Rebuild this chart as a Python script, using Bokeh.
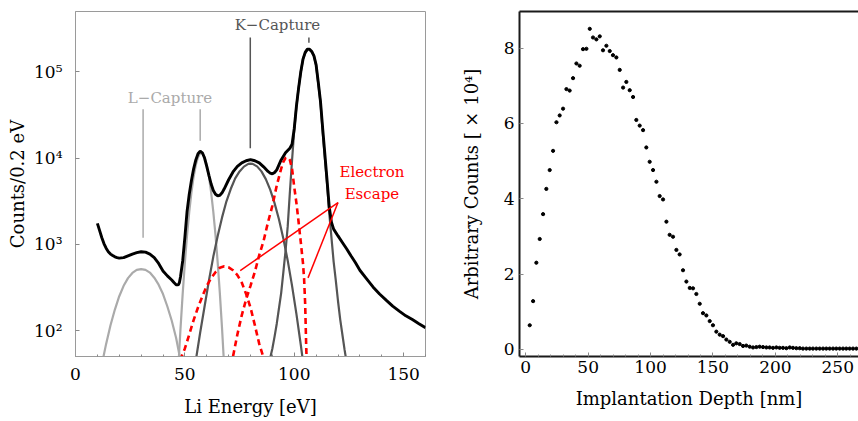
from bokeh.plotting import figure
from bokeh.layouts import row
from bokeh.models import FixedTicker, LinearAxis, Range1d
from bokeh.core.properties import value
from bokeh.embed import file_html
from bokeh.resources import INLINE

FONT = "DejaVu Serif"

# ---------------- Left panel: Li energy spectrum ----------------
spec_e = [10, 11, 12, 13, 14, 15, 16, 17, 18, 19, 20, 22, 24, 26, 28, 30, 32, 34, 36, 38, 40,
          42, 44, 45, 46, 47, 47.5, 48, 49, 50, 51, 52, 53, 54, 55, 56, 57, 58, 59, 60, 61, 62,
          63, 64, 65, 66, 67, 68, 70, 72, 74, 76, 78, 80, 82, 84, 86, 88, 89, 90, 91, 92, 94,
          96, 98, 99, 100, 101, 102, 103, 104, 105, 106, 107, 108, 109, 110, 111, 112, 113,
          114, 115, 116, 117, 118, 120, 122, 124, 126, 128, 130, 133, 136, 139, 142, 145, 148,
          151, 154, 157, 160]
spec_c = [1750, 1450, 1200, 1020, 900, 820, 770, 740, 715, 700, 690, 700, 735, 770, 800, 820,
          810, 770, 700, 600, 490, 430, 385, 360, 340, 338, 360, 420, 640, 1200, 2400, 3800,
          5500, 7500, 9500, 11200, 12000, 11500, 10000, 8000, 6300, 5000, 4200, 3800, 3650,
          3700, 3950, 4400, 5600, 6900, 8000, 8800, 9300, 9600, 9300, 8800, 7900, 7000, 6700,
          6550, 6800, 7300, 9500, 11500, 13000, 14500, 22000, 40000, 65000, 100000, 140000,
          168000, 183000, 183000, 172000, 153000, 120000, 75000, 45000, 22000, 11000, 5500,
          2700, 1800, 1500, 1250, 1050, 880, 730, 610, 500, 400, 320, 265, 225, 192, 168, 148,
          134, 120, 108]

# L-capture components (light grey)
l1_e = [12, 14, 16, 18, 20, 22, 24, 26, 28, 30, 32, 34, 36, 38, 40, 42, 44, 46, 48]
l1_c = [40, 70, 115, 175, 250, 330, 405, 465, 505, 515, 505, 470, 410, 340, 265, 190, 130, 82, 45]
l2_e = [46, 47, 48, 49, 50, 51, 52, 53, 54, 55, 56, 57, 58, 59, 60, 61, 62, 63, 64, 65, 66, 67, 68, 69]
l2_c = [12, 37, 105, 268, 614, 1276, 2380, 4000, 6075, 8310, 10230, 11350, 11350, 10230, 8310,
        6075, 4000, 2380, 1276, 614, 268, 105, 37, 12]

# K-capture components (dark grey)
k1_e = [53, 55, 57, 59, 61, 63, 65, 67, 69, 71, 73, 75, 77, 79, 80, 81, 83, 85, 87, 89, 91, 93,
        95, 97, 99, 101, 103, 105, 107]
k1_c = [20, 45, 95, 190, 380, 720, 1250, 2050, 3150, 4400, 5800, 7000, 7950, 8550, 8600, 8550,
        8000, 7000, 5700, 4300, 3000, 1950, 1170, 650, 330, 155, 68, 28, 11]
k2_e = [87, 88, 89, 90, 91, 92, 93, 94, 95, 96, 97, 98, 99, 100, 101, 102, 103, 104, 105, 106,
        107, 108, 109, 110, 111, 112, 113, 114, 115, 116, 117, 118, 119, 120, 121, 122, 123,
        124, 125]
k2_c = [20, 30, 48, 62, 85, 120, 180, 270, 470, 830, 1600, 4000, 9500, 21000, 40000, 65000,
        100000, 140000, 165000, 180000, 180000, 170000, 152000, 118000, 72000, 44000, 20000,
        10000, 5000, 2300, 1200, 630, 380, 220, 135, 90, 60, 42, 28]

# Electron-escape components (red dashed)
e1_e = [47, 48.5, 50, 52, 54, 56, 58, 60, 62, 64, 66, 68, 70, 72, 74, 76, 78, 80, 82, 84, 86, 88]
e1_c = [35, 50, 62, 90, 132, 185, 250, 330, 405, 475, 535, 555, 540, 500, 440, 360, 265, 185,
        115, 70, 48, 30]
e2_e = [70, 72, 74, 76, 78, 80, 82, 84, 86, 88, 90, 92, 94, 95, 96, 97, 98, 99, 100, 101, 102,
        103, 104, 104.5, 105, 105.5, 106]
e2_c = [30, 50, 90, 150, 230, 330, 480, 750, 1100, 1800, 2800, 4800, 7500, 9000, 10000, 10200,
        9500, 7500, 4600, 3000, 1800, 1050, 600, 400, 200, 60, 30]

# annotation anchors (data coordinates)
l_lines_x = [30.9, 57.0]
l_lines_top = [36700, 36700]
l_lines_bot = [1190, 15900]
k_lines_x = [79.9, 106.7]
k_lines_top = [250000, 250000]
k_lines_bot = [13000, 217000]
esc_from = (120.0, 3050)
esc_to_x = [75.3, 106.3]
esc_to_y = [495, 408]

p1 = figure(width=448, height=421, x_range=Range1d(0, 160), y_range=Range1d(50, 5e5),
            y_axis_type="log", output_backend="svg", toolbar_location=None,
            min_border_left=75, min_border_right=23, min_border_top=7, min_border_bottom=65)
p1.grid.visible = False
p1.outline_line_color = "#9a9a9a"
p1.outline_line_width = 1
p1.background_fill_color = None
p1.border_fill_color = None

p1.xaxis.ticker = FixedTicker(ticks=[0, 50, 100, 150],
                              minor_ticks=[10, 20, 30, 40, 60, 70, 80, 90, 110, 120, 130, 140, 160])
p1.yaxis.ticker = FixedTicker(ticks=[100, 1000, 10000, 100000])
p1.yaxis.major_label_overrides = {100: "10²", 1000: "10³", 10000: "10⁴", 100000: "10⁵"}
for ax in (p1.xaxis[0], p1.yaxis[0]):
    ax.axis_line_color = "#9a9a9a"
    ax.major_tick_line_color = "#888888"
    ax.minor_tick_line_color = "#888888"
    ax.major_tick_in = 4
    ax.major_tick_out = 0
    ax.minor_tick_in = 2
    ax.minor_tick_out = 0
    ax.major_label_text_font = FONT
    ax.major_label_text_font_size = "17px"
    ax.major_label_text_color = "black"
    ax.axis_label_text_font = FONT
    ax.axis_label_text_font_size = "18px"
    ax.axis_label_text_font_style = "normal"
    ax.axis_label_text_color = "black"
p1.xaxis.axis_label = "Li Energy [eV]"
p1.yaxis.axis_label = "Counts/0.2 eV"
p1.xaxis.major_label_standoff = 11
p1.xaxis.axis_label_standoff = 13
p1.yaxis.major_label_standoff = 13
p1.yaxis.axis_label_standoff = 3
p1.yaxis.minor_tick_line_color = None

# component curves
p1.line(l1_e, l1_c, line_color="#aaaaaa", line_width=2.2)
p1.line(l2_e, l2_c, line_color="#aaaaaa", line_width=2.2)
p1.line(k1_e, k1_c, line_color="#555555", line_width=2.2)
p1.line(k2_e, k2_c, line_color="#555555", line_width=2.2)
p1.line(e1_e, e1_c, line_color="#ff0000", line_width=2.6, line_dash="6 4")
p1.line(e2_e, e2_c, line_color="#ff0000", line_width=2.6, line_dash="6 4")
# measured spectrum
p1.line(spec_e, spec_c, line_color="black", line_width=2.9)

# annotations
p1.segment(x0=l_lines_x, y0=l_lines_bot, x1=l_lines_x, y1=l_lines_top, line_color="#aaaaaa", line_width=1.5)
p1.segment(x0=k_lines_x, y0=k_lines_bot, x1=k_lines_x, y1=k_lines_top, line_color="#555555", line_width=1.5)
p1.segment(x0=[esc_from[0]] * 2, y0=[esc_from[1]] * 2, x1=esc_to_x, y1=esc_to_y,
           line_color="#ff0000", line_width=1.5)
p1.text(x=[43.2], y=[50000], text=["L−Capture"], text_color="#aaaaaa", text_font=value(FONT),
        text_font_size=value("15px"), text_align="center", text_baseline="middle")
p1.text(x=[92.3], y=[345000], text=["K−Capture"], text_color="#555555", text_font=value(FONT),
        text_font_size=value("15px"), text_align="center", text_baseline="middle")
p1.text(x=[135.5, 135.5], y=[6900, 3780], text=["Electron", "Escape"], text_color="#ff0000",
        text_font=value(FONT), text_font_size=value("15px"), text_align="center",
        text_baseline="middle")

# ---------------- Right panel: implantation depth ----------------
depth = [3.2, 5.9, 8.5, 11.2, 13.9, 16.5, 19.2, 21.9, 24.6, 27.2, 29.9, 32.6, 35.2, 37.9, 40.6,
         43.2, 45.9, 48.6, 51.3, 53.9, 56.6, 59.3, 61.9, 64.6, 67.3, 69.9, 72.6, 75.3, 78.0,
         80.6, 83.3, 86.0, 88.6, 91.3, 94.0, 96.6, 99.3, 102.0, 104.7, 107.3, 110.0, 112.7,
         115.3, 118.0, 120.7, 123.3, 126.0, 128.7, 131.4, 134.0, 136.7, 139.4, 142.0, 144.7,
         147.4, 150.0, 152.7, 155.4, 158.1, 160.7, 163.4, 166.1, 168.7, 171.4, 174.1, 176.7,
         179.4, 182.1, 184.8, 187.4, 190.1, 192.8, 195.4, 198.1, 200.8, 203.4, 206.1, 208.8,
         211.5, 214.1, 216.8, 219.5, 222.1, 224.8, 227.5, 230.1, 232.8, 235.5, 238.2, 240.8,
         243.5, 246.2, 248.8, 251.5, 254.2, 256.8, 259.5, 262.2, 264.9]
counts = [0.64, 1.28, 2.30, 2.93, 3.59, 4.26, 4.76, 5.27, 6.03, 6.21, 6.39, 6.91, 6.87, 7.20,
          7.59, 7.53, 7.97, 7.98, 8.51, 8.28, 8.23, 8.31, 7.94, 8.06, 7.92, 7.81, 7.75, 7.42,
          6.95, 7.10, 6.88, 6.70, 6.09, 5.94, 5.82, 5.36, 4.98, 4.76, 4.45, 4.07, 3.98, 3.39,
          3.04, 2.99, 2.64, 2.52, 2.10, 1.80, 1.63, 1.62, 1.47, 1.21, 0.96, 0.90, 0.75, 0.64,
          0.47, 0.39, 0.35, 0.26, 0.20, 0.12, 0.16, 0.14, 0.09, 0.10, 0.07, 0.05,
          0.06, 0.07, 0.06, 0.05, 0.05, 0.04, 0.05, 0.04, 0.04, 0.03, 0.05, 0.04, 0.03, 0.03,
          0.02, 0.02, 0.02, 0.02, 0.02, 0.02, 0.02, 0.02, 0.02, 0.02, 0.02, 0.02, 0.02, 0.02,
          0.02, 0.02, 0.02]

p2 = figure(width=410, height=421, x_range=Range1d(-5.0, 266.6), y_range=Range1d(-0.19, 8.97),
            output_backend="svg", toolbar_location=None,
            min_border_left=71, min_border_right=0, min_border_top=11, min_border_bottom=61)
p2.grid.visible = False
p2.outline_line_color = None
p2.background_fill_color = None
p2.border_fill_color = None
p2.xaxis.ticker = FixedTicker(ticks=[0, 50, 100, 150, 200, 250],
                              minor_ticks=[10, 20, 30, 40, 60, 70, 80, 90, 110, 120, 130, 140,
                                           160, 170, 180, 190, 210, 220, 230, 240, 260])
p2.yaxis.ticker = FixedTicker(ticks=[0, 2, 4, 6, 8])
for ax in (p2.xaxis[0], p2.yaxis[0]):
    ax.axis_line_color = "#1a1a1a"
    ax.axis_line_width = 2
    ax.major_tick_line_color = "#888888"
    ax.minor_tick_line_color = "#888888"
    ax.major_tick_in = 4
    ax.major_tick_out = 0
    ax.minor_tick_in = 2
    ax.minor_tick_out = 0
    ax.major_label_text_font = FONT
    ax.major_label_text_font_size = "17px"
    ax.major_label_text_color = "black"
    ax.axis_label_text_font = FONT
    ax.axis_label_text_font_size = "18px"
    ax.axis_label_text_font_style = "normal"
    ax.axis_label_text_color = "black"
p2.xaxis.axis_label = "Implantation Depth [nm]"
p2.yaxis.axis_label = "Arbitrary Counts [ × 10⁴]"
p2.xaxis.major_label_standoff = 4
p2.xaxis.axis_label_standoff = 12
p2.yaxis.major_label_standoff = 5
p2.yaxis.axis_label_standoff = 19

top_axis = LinearAxis(ticker=FixedTicker(ticks=[]), axis_line_color="#1a1a1a", axis_line_width=2,
                      major_tick_out=0, minor_tick_out=0, major_label_standoff=0)
p2.add_layout(top_axis, "above")

p2.scatter(depth, counts, size=3.2, color="black")

layout = row(p1, p2)
open("out.html", "w").write(file_html(layout, INLINE))
